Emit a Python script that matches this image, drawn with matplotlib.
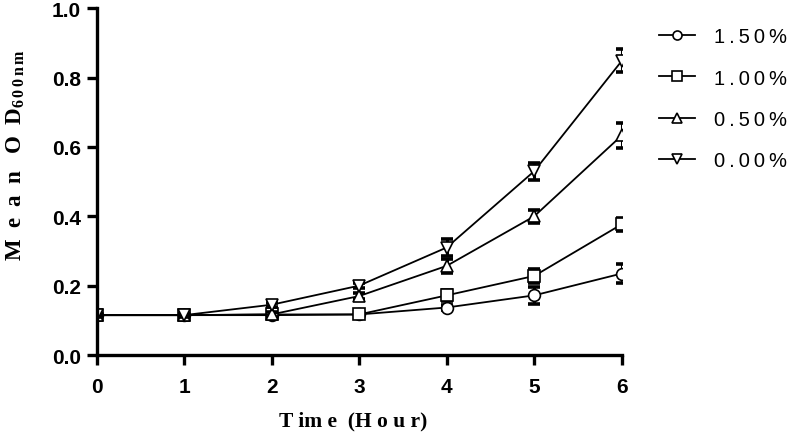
import matplotlib
matplotlib.use("Agg")
import matplotlib.pyplot as plt

plt.rcParams['mathtext.default'] = 'regular'

hours = [0, 1, 2, 3, 4, 5, 6]
labels = ["1.50%", "1.00%", "0.50%", "0.00%"]
markers = ["o", "s", "^", "v"]
mean_15 = [0.115, 0.115, 0.115, 0.117, 0.137, 0.172, 0.235]
mean_10 = [0.115, 0.115, 0.117, 0.117, 0.172, 0.228, 0.377]
mean_05 = [0.115, 0.115, 0.117, 0.170, 0.257, 0.400, 0.633]
mean_00 = [0.115, 0.115, 0.145, 0.200, 0.310, 0.530, 0.848]
err_15 = [0.004, 0.004, 0.004, 0.005, 0.006, 0.024, 0.027]
err_10 = [0.004, 0.004, 0.006, 0.006, 0.016, 0.020, 0.018]
err_05 = [0.004, 0.004, 0.006, 0.008, 0.020, 0.018, 0.037]
err_00 = [0.004, 0.004, 0.006, 0.008, 0.025, 0.024, 0.033]
means = [mean_15, mean_10, mean_05, mean_00]
errs = [err_15, err_10, err_05, err_00]

fig = plt.figure(figsize=(7.91, 4.39), dpi=100)
ax = fig.add_axes([0.122, 0.189, 0.664, 0.790])

for m, e, lab, mk in zip(means, errs, labels, markers):
    ax.errorbar(hours, m, yerr=e, fmt="none", ecolor="black",
                elinewidth=2.2, capsize=4, capthick=2.6)
    # spaced label text to mimic the wide letter spacing of the original
    ax.plot(hours, m, color="black", lw=1.3, marker=mk, ms=8.5,
            mfc="white", mec="black", mew=1.2, label="\u2009".join(lab))

ax.set_xlim(0, 6)
ax.set_ylim(0, 1.0)
ax.set_xticks(hours)
ax.set_yticks([0.0, 0.2, 0.4, 0.6, 0.8, 1.0])
ax.set_yticklabels(["0.0", "0.2", "0.4", "0.6", "0.8", "1.0"])
for s in ["top", "right"]:
    ax.spines[s].set_visible(False)
for s in ["left", "bottom"]:
    ax.spines[s].set_linewidth(2.4)
ax.tick_params(width=2.4, length=7, direction="out")
ax.tick_params(axis="y", pad=4)
ax.tick_params(axis="x", pad=9)
for t in ax.get_xticklabels() + ax.get_yticklabels():
    t.set_fontfamily("Liberation Sans")
    t.set_fontweight("bold")
    t.set_fontsize(15)

ax.set_xlabel("T im e  (H o u r)", fontfamily="Liberation Serif",
              fontweight="bold", fontsize=15.5)
ax.xaxis.set_label_coords(0.488, -0.16)
ax.set_ylabel(r"M  e  a  n   O  D$_{6\,0\,0\,n\,m}$", fontfamily="Liberation Serif",
              fontweight="bold", fontsize=16.5)
ax.yaxis.set_label_coords(-0.132, 0.58)

leg = ax.legend(loc="upper left", bbox_to_anchor=(1.055, 0.968), frameon=False,
                prop={"family": ["Liberation Sans", "DejaVu Sans"], "size": 14.5},
                handlelength=1.8, labelspacing=1.1, handletextpad=0.95,
                borderaxespad=0)
for h in leg.legend_handles:
    h.set_markersize(6.5)

fig.savefig("out.png", dpi=100)
